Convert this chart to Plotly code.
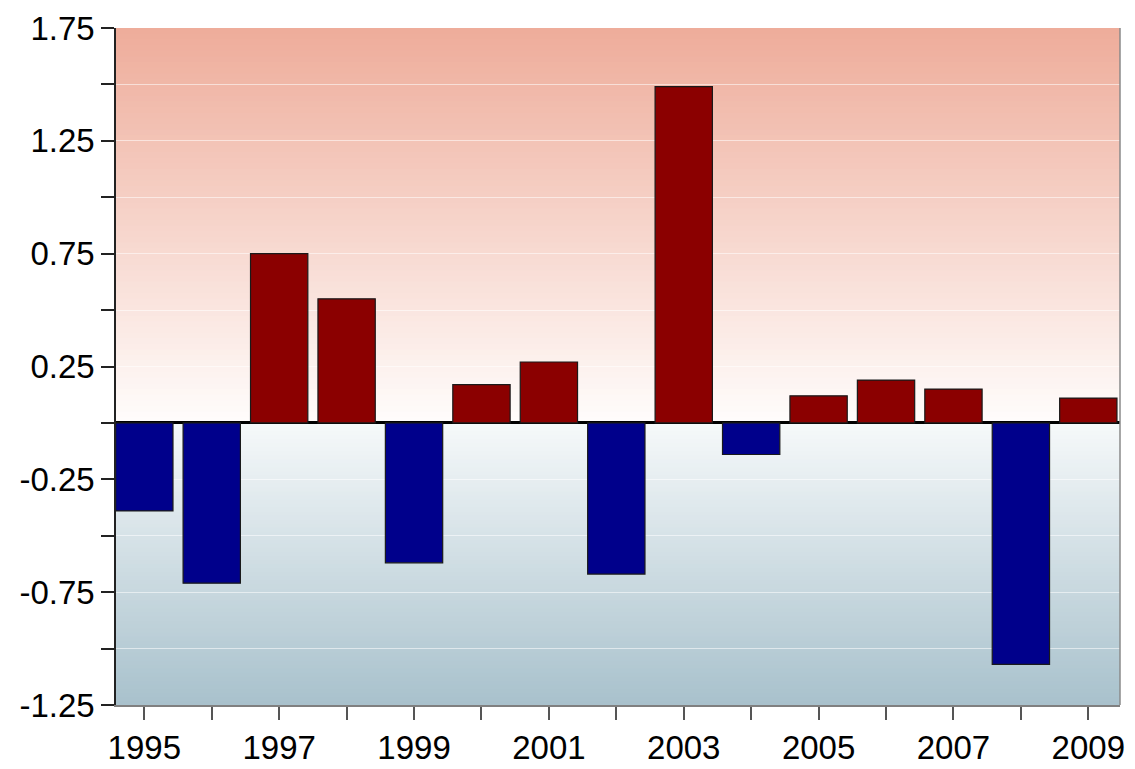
import plotly.graph_objects as go

years = list(range(1995, 2010))
values = [-0.39, -0.71, 0.75, 0.55, -0.62, 0.17, 0.27, -0.67, 1.49, -0.14, 0.12, 0.19, 0.15, -1.07, 0.11]
pos_color = "#8B0000"
neg_color = "#00008B"
y_tick_vals = [1.75, 1.5, 1.25, 1.0, 0.75, 0.5, 0.25, 0.0, -0.25, -0.5, -0.75, -1.0, -1.25]
y_tick_text = ["1.75", "", "1.25", "", "0.75", "", "0.25", "", "-0.25", "", "-0.75", "", "-1.25"]
x_tick_text = [str(y) if y % 2 == 1 else "" for y in years]

colors = [pos_color if v >= 0 else neg_color for v in values]

fig = go.Figure()
fig.add_trace(go.Bar(
    x=years, y=values,
    marker=dict(color=colors, line=dict(color="#1a1a1a", width=1.2)),
    showlegend=False,
))

# gradient background via stacked rectangles (slightly overlapping to avoid seams)
ymin, ymax = -1.25, 1.75
top_c = (238, 172, 154)
bot_c = (168, 193, 204)
mid_top = (255, 253, 252)
mid_bot = (246, 249, 250)
shapes = []
n_up = 70
step_up = (ymax - 0) / n_up
for i in range(n_up):
    y0 = step_up * i
    y1 = min(ymax, step_up * (i + 1) + step_up * 0.6)
    t = (i + 0.5) / n_up
    c = tuple(round(mid_top[k] + (top_c[k] - mid_top[k]) * t) for k in range(3))
    shapes.append(dict(type="rect", xref="paper", yref="y", x0=0, x1=1, y0=y0, y1=y1,
                       fillcolor="rgb(%d,%d,%d)" % c, line=dict(width=0), layer="below"))
n_dn = 70
step_dn = (0 - ymin) / n_dn
for i in range(n_dn):
    y1 = -step_dn * i
    y0 = max(ymin, -step_dn * (i + 1) - step_dn * 0.6)
    t = (i + 0.5) / n_dn
    c = tuple(round(mid_bot[k] + (bot_c[k] - mid_bot[k]) * t) for k in range(3))
    shapes.append(dict(type="rect", xref="paper", yref="y", x0=0, x1=1, y0=y0, y1=y1,
                       fillcolor="rgb(%d,%d,%d)" % c, line=dict(width=0), layer="below"))
# right border
shapes.append(dict(type="line", xref="paper", yref="paper", x0=1, x1=1, y0=0, y1=1,
                   line=dict(color="#8a8a8a", width=1.5), layer="above"))

fig.update_layout(
    width=1135, height=769,
    margin=dict(l=116, r=15, t=28, b=64),
    paper_bgcolor="white",
    plot_bgcolor="white",
    bargap=0.15,
    shapes=shapes,
    font=dict(family="Liberation Sans, Arial, sans-serif", size=33, color="black"),
    xaxis=dict(
        range=[1994.58, 2009.47],
        tickvals=years, ticktext=x_tick_text,
        ticks="outside", ticklen=13, tickwidth=1.5, tickcolor="#555555",
        showline=True, linecolor="#808080", linewidth=1.5,
        showgrid=False, zeroline=False, automargin=False,
        tickfont=dict(size=33),
    ),
    yaxis=dict(
        range=[ymin, ymax],
        tickvals=y_tick_vals, ticktext=y_tick_text,
        ticks="outside", ticklen=13, tickwidth=1.5, tickcolor="#222222",
        showline=True, linecolor="#222222", linewidth=1.5,
        showgrid=True, gridcolor="rgba(255,255,255,0.55)", gridwidth=1,
        zeroline=True, zerolinecolor="black", zerolinewidth=3, automargin=False,
        tickfont=dict(size=33),
    ),
)

fig.write_html(
    "out.html",
    config={"displayModeBar": False},
    post_script="document.body.style.margin='0';document.body.style.overflow='hidden';",
)
